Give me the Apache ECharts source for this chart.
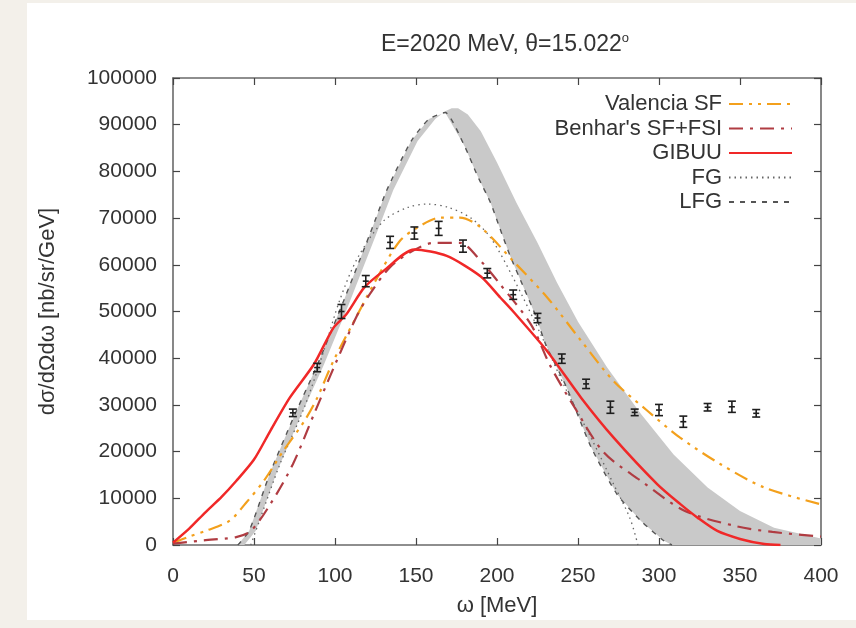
<!DOCTYPE html>
<html><head><meta charset="utf-8">
<script src="https://cdn.jsdelivr.net/npm/echarts@6/dist/echarts.min.js"></script>
<style>html,body{margin:0;padding:0;background:#f3f0ea;} #chart{width:856px;height:628px;}</style>
</head><body><div id="chart"></div>
<script>
// Axis ranges
const xMin = 0, xMax = 400, xStep = 50;
const yMin = 0, yMax = 100000, yStep = 10000;

// Experimental data points with error bars
const dataOmega = [74, 89, 104, 119, 134, 149, 164, 179, 194, 210, 225, 240, 255, 270, 285, 300, 315, 330, 345, 360];
const dataValue = [28300, 38000, 50000, 56500, 64800, 66800, 67800, 64000, 58200, 53600, 48600, 39900, 34500, 29500, 28400, 28900, 26400, 29500, 29600, 28200];
const dataError = [800, 900, 1500, 1200, 1300, 1300, 1500, 1300, 1000, 1000, 1000, 1000, 1000, 1300, 700, 1200, 1200, 800, 1200, 800];

// Valencia SF
const valOmega = [0, 10, 20, 35, 45, 56, 68, 81, 89, 99, 114, 126, 140, 151, 165, 177, 190, 210, 231, 252, 272, 293, 313, 338, 365, 400];
const valValue = [500, 1800, 3000, 5200, 9000, 13700, 20100, 26500, 31500, 39400, 49400, 57200, 65100, 68000, 70100, 70100, 68000, 60800, 53000, 43700, 35100, 28700, 23000, 17300, 12300, 8700];

// Benhar's SF+FSI
const benOmega = [0, 19, 39, 48, 60, 74, 87, 101, 114, 122, 134, 148, 161, 177, 190, 202, 221, 233, 248, 266, 289, 316, 348, 370, 400];
const benValue = [300, 1000, 1700, 3000, 8700, 17300, 28000, 39400, 49400, 54000, 59500, 63000, 64700, 64700, 60800, 55800, 47200, 38300, 29400, 19800, 13700, 7300, 4000, 2800, 1800];

// GIBUU
const gibOmega = [0, 10, 20, 30, 39, 50, 60, 72, 87, 99, 107, 118, 130, 149, 169, 190, 202, 210, 231, 252, 272, 299, 313, 324, 336, 350, 365, 375];
const gibValue = [500, 3500, 7000, 10300, 13700, 18300, 24400, 31500, 38700, 46500, 49400, 55100, 58700, 63300, 61900, 57500, 53000, 50000, 41500, 31500, 23000, 13000, 8800, 5800, 3000, 1300, 200, 0];

// FG
const fgOmega = [48, 54, 66, 81, 93, 103, 114, 130, 145, 157, 170, 184, 196, 210, 227, 243, 258, 272, 282, 287];
const fgValue = [0, 5800, 17300, 29400, 41500, 52500, 61500, 69400, 72300, 73000, 72300, 70000, 65800, 57200, 45100, 33000, 23000, 13000, 5800, 0];

// LFG
const lfgOmega = [40, 47, 60, 74, 89, 105, 122, 132, 147, 158, 168, 180, 188, 196, 202, 208, 217, 224, 230, 243, 258, 274, 289, 303, 308];
const lfgValue = [0, 3000, 15500, 27000, 38500, 52000, 67000, 76000, 86500, 91200, 92600, 85400, 79000, 73300, 67600, 62000, 54700, 49000, 43000, 33700, 21000, 10900, 5100, 900, 0];

// Grey band: outer edge (other edge is the LFG curve)
const bandOmega = [44, 51, 64, 78, 93, 109, 126, 136, 151, 162, 168, 172, 176, 182, 190, 200, 212, 225, 237, 250, 268, 289, 309, 330, 350, 371, 400];
const bandValue = [0, 3000, 15500, 27000, 38500, 52000, 67000, 76000, 86500, 91300, 92900, 93500, 93500, 92200, 88600, 81900, 73300, 64700, 56200, 47800, 38000, 28000, 19400, 12300, 7300, 3700, 1400];

const legendNames = ['Valencia SF', "Benhar's SF+FSI", 'GIBUU', 'FG', 'LFG'];

const zip = (a, b) => a.map((v, i) => [v, b[i]]);
const FONT = 'Liberation Sans, Arial, sans-serif';
const TXT = '#333';

const chart = echarts.init(document.getElementById('chart'));

function axisCommon(showLabel) {
  return {
    type: 'value',
    axisLine: { show: true, onZero: false, lineStyle: { color: '#6a6a6a', width: 1.6 } },
    axisTick: { show: true, inside: true, length: 7, lineStyle: { color: '#444', width: 1.2 } },
    splitLine: { show: false },
    axisLabel: { show: showLabel, fontSize: 21, color: TXT, fontFamily: FONT }
  };
}

const option = {
  backgroundColor: '#f3f0ea',
  animation: false,
  graphic: { elements: [
    { type: 'rect', left: 27, top: 3, shape: { width: 829, height: 617 }, style: { fill: '#ffffff' }, z: -100, silent: true }
  ]},
  title: {
    text: '{a|E=2020 MeV, θ=15.022}{s|o}',
    left: 500, top: 27, textAlign: 'center',
    textStyle: {
      fontWeight: 'normal',
      rich: {
        a: { fontSize: 23, fontWeight: 'normal', color: TXT, fontFamily: FONT, lineHeight: 26 },
        s: { fontSize: 13, fontWeight: 'normal', color: TXT, fontFamily: FONT, lineHeight: 13, verticalAlign: 'top' }
      }
    }
  },
  legend: {
    data: legendNames,
    orient: 'vertical',
    right: 58, top: 88,
    align: 'right',
    itemWidth: 63, itemHeight: 14, itemGap: 2.5,
    itemStyle: { opacity: 0 },
    textStyle: { fontSize: 22, lineHeight: 22, color: TXT, fontFamily: FONT, padding: [0, 2, 0, 0] }
  },
  grid: { left: 173, right: 35, top: 78, bottom: 83, containLabel: false },
  xAxis: [
    Object.assign(axisCommon(true), {
      min: xMin, max: xMax, interval: xStep, position: 'bottom',
      name: 'ω [MeV]', nameLocation: 'middle', nameGap: 50,
      nameTextStyle: { fontSize: 22, color: TXT, fontFamily: FONT },
      axisLabel: { show: true, margin: 21, fontSize: 21, color: TXT, fontFamily: FONT }
    }),
    Object.assign(axisCommon(false), { min: xMin, max: xMax, interval: xStep, position: 'top' })
  ],
  yAxis: [
    Object.assign(axisCommon(true), {
      min: yMin, max: yMax, interval: yStep, position: 'left',
      name: 'dσ/dΩdω [nb/sr/GeV]', nameLocation: 'middle', nameGap: 114,
      nameTextStyle: { fontSize: 22, color: TXT, fontFamily: FONT },
      axisLabel: { show: true, margin: 16, fontSize: 21, color: TXT, fontFamily: FONT, formatter: v => String(v) }
    }),
    Object.assign(axisCommon(false), { min: yMin, max: yMax, interval: yStep, position: 'right' })
  ],
  series: [
    {
      type: 'custom', name: 'band', silent: true, z: 1,
      xAxisIndex: 0, yAxisIndex: 0,
      data: [[lfgOmega[0], 0]],
      renderItem: function (params, api) {
        const pts = [];
        for (let i = 0; i < lfgOmega.length; i++) pts.push(api.coord([lfgOmega[i], lfgValue[i]]));
        pts.push(api.coord([xMax, 0]));
        for (let i = bandOmega.length - 1; i >= 0; i--) pts.push(api.coord([bandOmega[i], bandValue[i]]));
        return { type: 'polygon', shape: { points: pts }, style: { fill: '#c9c9c9', stroke: 'none' } };
      }
    },
    {
      type: 'line', name: 'LFG', data: zip(lfgOmega, lfgValue), symbol: 'none', smooth: 0.2, z: 3,
      lineStyle: { color: '#555', width: 1.4, type: [5, 6] }, itemStyle: { color: '#555' }
    },
    {
      type: 'line', name: 'FG', data: zip(fgOmega, fgValue), symbol: 'none', smooth: 0.3, z: 3,
      lineStyle: { color: '#666', width: 1.3, type: [1.5, 4] }, itemStyle: { color: '#666' }
    },
    {
      type: 'line', name: 'Valencia SF', data: zip(valOmega, valValue), symbol: 'none', smooth: 0.3, z: 4,
      lineStyle: { color: '#f3a01c', width: 2.2, type: [14, 6, 3, 6, 3, 6] }, itemStyle: { color: '#f3a01c' }
    },
    {
      type: 'line', name: "Benhar's SF+FSI", data: zip(benOmega, benValue), symbol: 'none', smooth: 0.3, z: 4,
      lineStyle: { color: '#b03c42', width: 2.2, type: [14, 7, 3, 7] }, itemStyle: { color: '#b03c42' }
    },
    {
      type: 'line', name: 'GIBUU', data: zip(gibOmega, gibValue), symbol: 'none', smooth: 0.25, z: 5,
      lineStyle: { color: '#f02828', width: 2.5 }, itemStyle: { color: '#f02828' }
    },
    {
      type: 'custom', name: 'data', z: 10, xAxisIndex: 0, yAxisIndex: 0,
      data: dataOmega.map((w, i) => [w, dataValue[i], dataError[i]]),
      encode: { x: 0, y: 1 },
      renderItem: function (params, api) {
        const x = api.value(0), y = api.value(1), e = api.value(2);
        const lo = api.coord([x, y - e]), hi = api.coord([x, y + e]), c = api.coord([x, y]);
        const hw = 4;
        const st = { stroke: '#1e1e1e', lineWidth: 1.6 };
        return { type: 'group', children: [
          { type: 'line', shape: { x1: lo[0], y1: lo[1], x2: hi[0], y2: hi[1] }, style: st },
          { type: 'line', shape: { x1: lo[0] - hw, y1: lo[1], x2: lo[0] + hw, y2: lo[1] }, style: st },
          { type: 'line', shape: { x1: hi[0] - hw, y1: hi[1], x2: hi[0] + hw, y2: hi[1] }, style: st },
          { type: 'line', shape: { x1: c[0] - 3, y1: c[1], x2: c[0] + 3, y2: c[1] }, style: st }
        ]};
      }
    }
  ]
};
chart.setOption(option);
</script></body></html>
